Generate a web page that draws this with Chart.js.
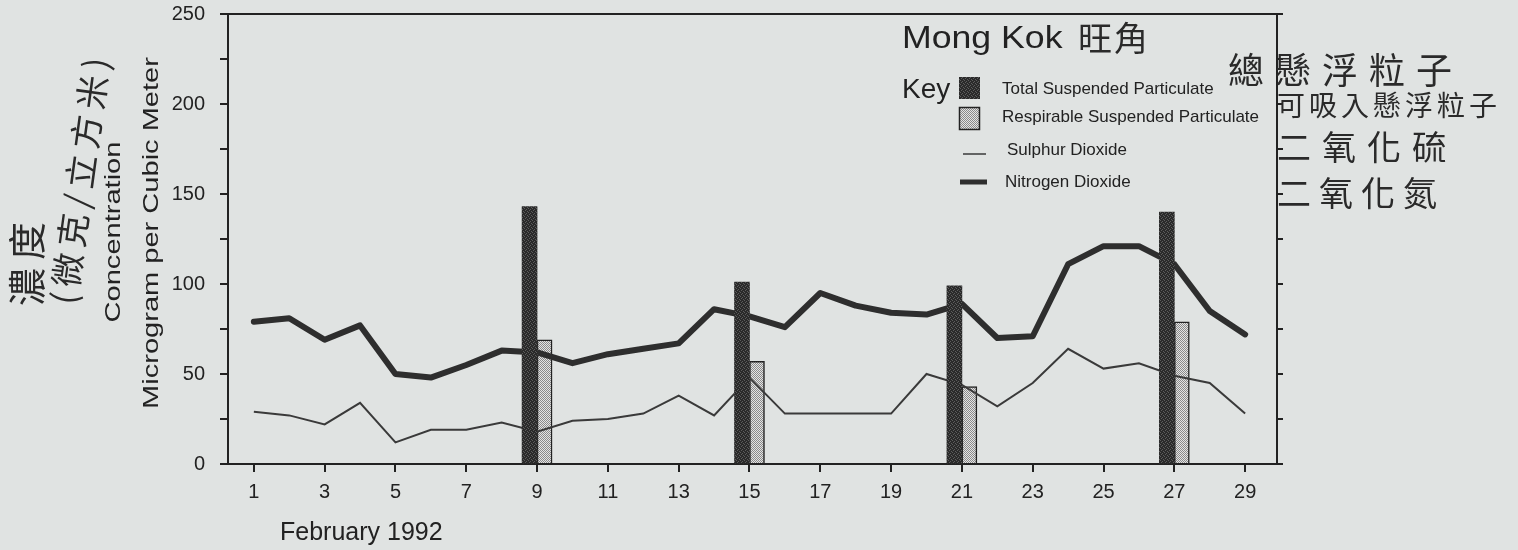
<!DOCTYPE html>
<html>
<head>
<meta charset="utf-8">
<script src="https://cdn.jsdelivr.net/npm/chart.js@4.4.1/dist/chart.umd.min.js"></script>
<style>
  html, body { margin: 0; padding: 0; background: #e0e3e2; }
  #chart1 { display: block; }
</style>
</head>
<body>
<canvas id="chart1" width="1518" height="550"></canvas>
<script>
// February 1992, daily readings (microgram per cubic meter)
const days = [1, 2, 3, 4, 5, 6, 7, 8, 9, 10, 11, 12, 13, 14, 15, 16, 17, 18, 19, 20, 21, 22, 23, 24, 25, 26, 27, 28, 29];
const no2 = [79, 81, 69, 77, 50, 48, 55, 63, 62, 56, 61, 64, 67, 86, 82, 76, 95, 88, 84, 83, 89, 70, 71, 111, 121, 121, 111, 85, 72];
const so2 = [29, 27, 22, 34, 12, 19, 19, 23, 18, 24, 25, 28, 38, 27, 48, 28, 28, 28, 28, 50, 44, 32, 45, 64, 53, 56, 49, 45, 28];
const barDays = [9, 15, 21, 27];
const tsp = [143, 101, 99, 140];
const rsp = [69, 57, 43, 79];
const xTickDays = [1, 3, 5, 7, 9, 11, 13, 15, 17, 19, 21, 23, 25, 27, 29];
const seriesNames = ['Total Suspended Particulate', 'Respirable Suspended Particulate', 'Sulphur Dioxide', 'Nitrogen Dioxide'];
const handNotes = ['總懸浮粒子', '可吸入懸浮粒子', '二氧化硫', '二氧化氮'];

const ink = '#222';
const latin = "'Liberation Sans', Arial, sans-serif";
const hand = "'Noto Sans CJK TC', sans-serif";

function makePattern(bg, fg, cells) {
  const c = document.createElement('canvas');
  c.width = 4; c.height = 4;
  const g = c.getContext('2d');
  g.fillStyle = bg; g.fillRect(0, 0, 4, 4);
  g.fillStyle = fg;
  cells.forEach(([x, y]) => g.fillRect(x, y, 1, 1));
  return g.createPattern(c, 'repeat');
}
const tspFill = makePattern('#2a2a2a', '#5c5c5c', [[0, 0], [2, 1], [1, 2], [3, 3]]);
const rspFill = makePattern('#e4e4e4', '#8a8a8a', [[0, 0], [2, 0], [1, 1], [3, 1], [0, 2], [2, 2], [1, 3], [3, 3]]);

function txt(ctx, s, x, y, font, opt) {
  opt = opt || {};
  ctx.save();
  ctx.translate(x, y);
  ctx.rotate(opt.rot || 0);
  ctx.scale(opt.sx || 1, 1);
  ctx.font = font;
  ctx.fillStyle = opt.color || ink;
  ctx.textAlign = opt.align || 'left';
  ctx.textBaseline = opt.base || 'middle';
  if (opt.ls) ctx.letterSpacing = opt.ls + 'px';
  ctx.fillText(s, 0, 0);
  ctx.restore();
}

const decor = {
  id: 'decor',
  afterDraw(chart) {
    const ctx = chart.ctx;
    const a = chart.chartArea;
    // top frame line
    ctx.save();
    ctx.strokeStyle = ink; ctx.lineWidth = 2;
    ctx.beginPath(); ctx.moveTo(a.left, a.top); ctx.lineTo(a.right, a.top); ctx.stroke();
    ctx.restore();

    // axis titles
    txt(ctx, 'Concentration', 120, 232, '22px ' + latin, { rot: -Math.PI / 2, sx: 1.32, align: 'center', base: 'alphabetic' });
    txt(ctx, 'Microgram per Cubic Meter', 158, 233, '22px ' + latin, { rot: -Math.PI / 2, sx: 1.32, align: 'center', base: 'alphabetic' });
    txt(ctx, 'February 1992', 280, 540, '25px ' + latin, { base: 'alphabetic' });

    // key
    txt(ctx, 'Mong Kok', 902, 48, '31px ' + latin, { sx: 1.15, base: 'alphabetic' });
    txt(ctx, '旺角', 1078, 38, '34px ' + hand, { ls: 2, color: '#2a2a2a' });
    txt(ctx, 'Key', 902, 98, '28px ' + latin, { base: 'alphabetic' });
    ctx.save();
    ctx.fillStyle = tspFill; ctx.fillRect(959, 77, 21, 22);
    ctx.fillStyle = rspFill; ctx.fillRect(959, 107, 21, 23);
    ctx.strokeStyle = ink; ctx.lineWidth = 1.5; ctx.strokeRect(959.5, 107.5, 20, 22);
    ctx.strokeStyle = '#3a3a3a'; ctx.lineWidth = 1.5;
    ctx.beginPath(); ctx.moveTo(963, 154); ctx.lineTo(986, 154); ctx.stroke();
    ctx.strokeStyle = '#2e2e2e'; ctx.lineWidth = 5;
    ctx.beginPath(); ctx.moveTo(960, 182); ctx.lineTo(987, 182); ctx.stroke();
    ctx.restore();
    const keyX = [1002, 1002, 1007, 1005];
    const keyY = [89, 117, 150, 182];
    seriesNames.forEach((n, i) => txt(ctx, n, keyX[i], keyY[i], '17px ' + latin));

    // handwritten notes
    const noteX = [1228, 1277, 1277, 1277];
    const noteY = [70, 105, 147, 193];
    const noteSize = [36, 28, 34, 34];
    const noteLs = [11, 4, 11, 8];
    handNotes.forEach((n, i) => txt(ctx, n, noteX[i], noteY[i], noteSize[i] + 'px ' + hand, { ls: noteLs[i], color: '#2a2a2a' }));
    txt(ctx, '濃度', 27, 260, '38px ' + hand, { rot: -Math.PI / 2, align: 'center', ls: 8, color: '#2a2a2a' });
    txt(ctx, '(微克/立方米)', 80, 178, '34px ' + hand, { rot: Math.atan2(-255, 35), align: 'center', ls: 6, color: '#2a2a2a' });
  }
};

const ctx = document.getElementById('chart1');
new Chart(ctx, {
  type: 'bar',
  data: {
    datasets: [
      {
        type: 'bar',
        label: seriesNames[0],
        data: barDays.map((d, i) => ({ x: d, y: tsp[i] })),
        backgroundColor: tspFill,
        borderWidth: 0,
        barThickness: 15,
        stack: 'tsp',
        order: 1
      },
      {
        type: 'bar',
        label: seriesNames[1],
        data: barDays.map((d, i) => ({ x: d, y: rsp[i] })),
        backgroundColor: rspFill,
        borderColor: ink,
        borderWidth: 1.5,
        barThickness: 15,
        stack: 'rsp',
        order: 3
      },
      {
        type: 'line',
        label: seriesNames[2],
        data: days.map((d, i) => ({ x: d, y: so2[i] })),
        borderColor: '#3a3a3a',
        borderWidth: 2,
        pointRadius: 0,
        tension: 0,
        order: 2
      },
      {
        type: 'line',
        label: seriesNames[3],
        data: days.map((d, i) => ({ x: d, y: no2[i] })),
        borderColor: '#2e2e2e',
        borderWidth: 6,
        borderJoinStyle: 'round',
        borderCapStyle: 'round',
        pointRadius: 0,
        tension: 0,
        order: 2
      }
    ]
  },
  options: {
    responsive: false,
    animation: false,
    layout: { autoPadding: false, padding: { top: 14, left: 0, right: 0, bottom: 0 } },
    plugins: {
      legend: { display: false },
      tooltip: { enabled: false }
    },
    scales: {
      x: {
        type: 'linear',
        min: 0.27,
        max: 29.9,
        offset: false,
        afterBuildTicks: (s) => { s.ticks = xTickDays.map(v => ({ value: v })); },
        afterFit: (s) => { s.height = 86; },
        grid: { drawOnChartArea: false, offset: false, tickLength: 8, color: ink, lineWidth: 2 },
        border: { color: ink, width: 2 },
        ticks: {
          font: { family: latin, size: 20 },
          color: ink,
          padding: 8,
          maxRotation: 0,
          autoSkip: false,
          callback: (v) => v
        }
      },
      y: {
        min: 0,
        max: 250,
        afterFit: (s) => { s.width = 228; s.paddingTop = 0; s.paddingBottom = 0; },
        grid: { drawOnChartArea: false, tickLength: 8, color: ink, lineWidth: 2 },
        border: { color: ink, width: 2 },
        ticks: {
          stepSize: 25,
          padding: 15,
          font: { family: latin, size: 20 },
          color: ink,
          callback: (v) => (v % 50 === 0 ? v : '')
        }
      },
      y2: {
        position: 'right',
        min: 0,
        max: 250,
        afterFit: (s) => { s.width = 241; s.paddingTop = 0; s.paddingBottom = 0; },
        grid: { drawOnChartArea: false, tickLength: 6, color: ink, lineWidth: 2 },
        border: { color: ink, width: 2 },
        ticks: { stepSize: 25, display: false }
      }
    }
  },
  plugins: [decor]
});
</script>
</body>
</html>
